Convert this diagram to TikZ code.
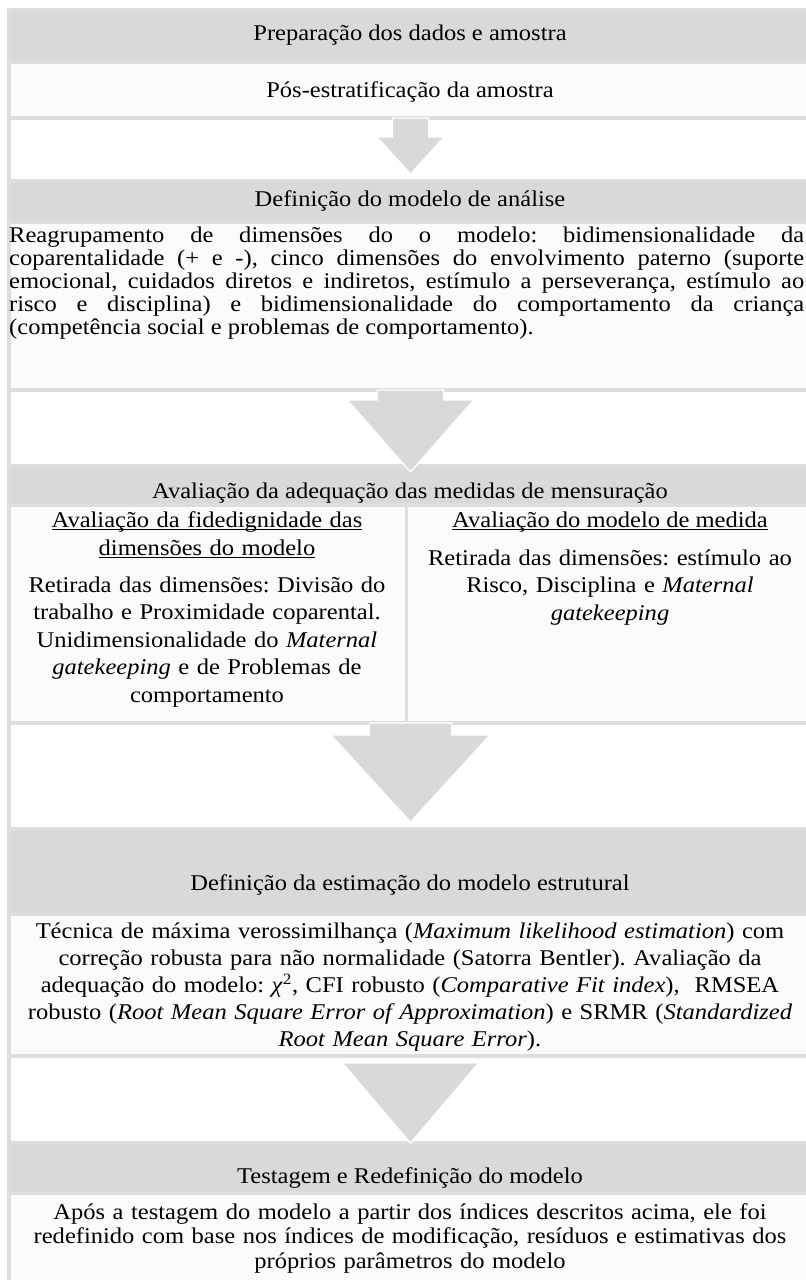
\documentclass[tikz,border=0pt]{standalone}
\usepackage{fontspec}
\setmainfont{Liberation Serif}[FakeStretch=1.09]
\usetikzlibrary{calc}
\definecolor{hdrc}{HTML}{D9D9D9}
\definecolor{bodyc}{HTML}{FBFBFB}
\definecolor{bordc}{HTML}{DDDDDD}
\newcommand\myul[1]{\leavevmode\setbox0\hbox{#1}\rlap{\rule[-2.5pt]{\wd0}{0.9pt}}\box0}
\newcommand\fl{\rule{0pt}{17pt}}
% block arrow: #1 start point, #2 end anchor, #3 apex dy, #4 shaft half, #5 shaft length, #6 head half
\newcommand\barrow[6]{%
  \path[blockarr] ($(#1)+(-#4,0)$) -- ($(#1)+(-#4,#5)$) -- ($(#1)+(-#6,#5)$)
    -- ($(#2)+(0,#3)$) -- ($(#1)+(#6,#5)$) -- ($(#1)+(#4,#5)$) -- ($(#1)+(#4,0)$) -- cycle;}
\tikzset{
  x=1pt, y=-1pt,
  hdrbox/.style={draw=bordc, fill=hdrc, line width=3.5pt, minimum width=803.5pt, inner sep=0pt, outer sep=0pt},
  bodybox/.style={draw=bordc, fill=bodyc, line width=3.5pt, minimum width=803.5pt, inner sep=0pt, outer sep=0pt},
  frameline/.style={draw=bordc, line width=3.5pt},
  blockarr/.style={fill=hdrc, draw=white, line width=1.2pt},
  txt/.style={inner sep=0pt, font=\fontsize{22.5}{25}\selectfont\frenchspacing, text=black},
  para/.style={txt, font=\fontsize{22.5}{23}\selectfont\frenchspacing, text width=795pt, align=justify},
  colt/.style={txt, font=\fontsize{22.5}{27.5}\selectfont\frenchspacing, text width=395pt, align=center},
  subt/.style={txt, font=\fontsize{22.5}{28}\selectfont\frenchspacing, text width=395pt, align=center},
  estt/.style={txt, font=\fontsize{22.5}{27}\selectfont\frenchspacing, text width=800pt, align=center},
  testt/.style={txt, font=\fontsize{22.5}{24.5}\selectfont\frenchspacing, text width=800pt, align=center},
}
\begin{document}
\begin{tikzpicture}
\useasboundingbox (0,0) rectangle (806,1280);
\clip (0,0) rectangle (806,1280);
\fill[white] (0,0) rectangle (806,1280);
% outer frame
\draw[frameline] (8.75,10) rectangle (812.25,1300);
% boxes
\node[hdrbox, minimum height=52pt] (h1) at (410.5,36) {};
\node[bodybox, minimum height=56pt] (b1) at (410.5,90) {};
\node[hdrbox, minimum height=41pt] (h2) at (410.5,201.5) {};
\node[bodybox, minimum height=168pt] (b2) at (410.5,306) {};
\node[hdrbox, minimum height=39pt] (h3) at (410.5,485.5) {};
\node[bodybox, minimum width=397.75pt, minimum height=218pt] (cl) at (207.625,614) {};
\node[bodybox, minimum width=405.75pt, minimum height=218pt] (cr) at (609.375,614) {};
\node[hdrbox, minimum height=85pt] (h4) at (410.5,871.5) {};
\node[bodybox, minimum height=142pt] (b4) at (410.5,985) {};
\node[hdrbox, minimum height=50pt] (h5) at (410.5,1168) {};
\node[bodybox, minimum height=110pt] (b5) at (410.5,1248) {};
\coordinate (b3s) at (cl.south -| h3.south);
% texts
\node[txt, anchor=base] (t1) at (410,40) {Preparação dos dados e amostra};
\node[txt, anchor=base] (t2) at (410,97) {Pós-estratificação da amostra};
\node[txt, anchor=base] (t3) at (410,206) {Definição do modelo de análise};
\node[para, anchor=north west] (t4) at (9,225) {\fl Reagrupamento de dimensões do o modelo: bidimensionalidade da\linebreak
 coparentalidade (+ e -), cinco dimensões do envolvimento paterno (suporte\linebreak
 emocional, cuidados diretos e indiretos, estímulo a perseverança, estímulo ao\linebreak
 risco e disciplina) e bidimensionalidade do comportamento da criança\linebreak
 (competência social e problemas de comportamento).};
\node[txt, anchor=base] (t5) at (410,498) {Avaliação da adequação das medidas de mensuração};
\node[subt, anchor=north] (t6) at (207,510) {\fl\myul{Avaliação da fidedignidade das}\\\myul{dimensões do modelo}};
\node[colt, anchor=north] (t7) at (207,575) {\fl Retirada das dimensões: Divisão do\\trabalho e Proximidade coparental.\\Unidimensionalidade do \textit{Maternal}\\\textit{gatekeeping} e de Problemas de\\comportamento};
\node[txt, anchor=base] (t8) at (610,527) {\myul{Avaliação do modelo de medida}};
\node[colt, anchor=north] (t9) at (610,548) {\fl Retirada das dimensões: estímulo ao\\Risco, Disciplina e \textit{Maternal}\\\textit{gatekeeping}};
\node[txt, anchor=base] (t10) at (410,890) {Definição da estimação do modelo estrutural};
\node[estt, anchor=north] (t11) at (410,921) {\fl Técnica de máxima verossimilhança (\textit{Maximum likelihood estimation}) com\\correção robusta para não normalidade (Satorra Bentler). Avaliação da\\adequação do modelo: \textit{χ}\textsuperscript{2}, CFI robusto (\textit{Comparative Fit index}), \ RMSEA\\robusto (\textit{Root Mean Square Error of Approximation}) e SRMR (\textit{Standardized}\\\textit{Root Mean Square Error}).};
\node[txt, anchor=base] (t12) at (410,1183) {Testagem e Redefinição do modelo};
\node[testt, anchor=north] (t13) at (410,1202) {\fl Após a testagem do modelo a partir dos índices descritos acima, ele foi\\redefinido com base nos índices de modificação, resíduos e estimativas dos\\próprios parâmetros do modelo};
% arrows
\barrow{b1.south}{h2.north}{-7}{18}{19}{33.5}
\barrow{b2.south}{h3.north}{6}{33}{10}{63}
\barrow{b3s}{h4.north}{-7}{41}{12}{79.5}
\path[blockarr] ($(b4.south)+(-68,7)$) -- ($(h5.north)+(0,0)$) -- ($(b4.south)+(68,7)$) -- cycle;
\end{tikzpicture}
\end{document}
